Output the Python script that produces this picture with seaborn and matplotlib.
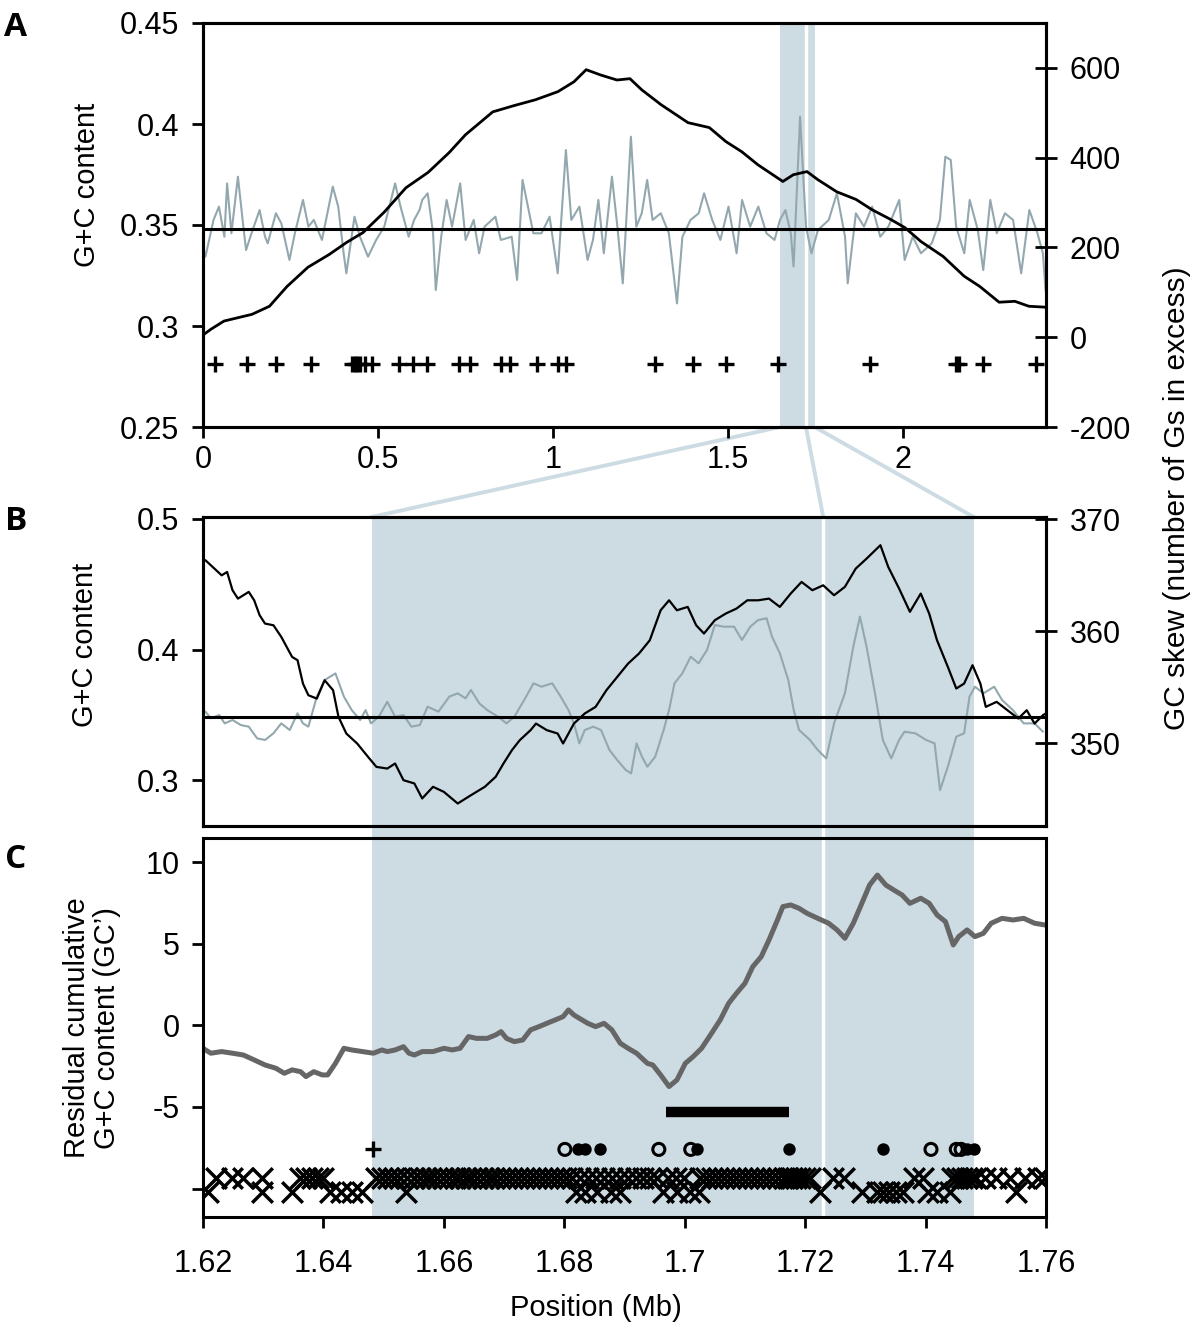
import matplotlib
matplotlib.use("Agg")
import matplotlib.pyplot as plt
import matplotlib.transforms as mtransforms
from matplotlib.patches import Rectangle, ConnectionPatch
from matplotlib.lines import Line2D
import seaborn as sns

# ---------------- data ----------------
# Panel A : whole genome (Mb)
a_gc_pos = [0.000, 0.0069, 0.0301, 0.0456, 0.0611, 0.0689, 0.0812, 0.0998, 0.1153, 0.1231, 0.1386, 0.1618,
            0.1773, 0.1850, 0.2083, 0.2238, 0.2470, 0.2625, 0.2857, 0.3012, 0.3167, 0.3399, 0.3709, 0.3864,
            0.4019, 0.4096, 0.4329, 0.4484, 0.4716, 0.4948, 0.5181, 0.5490, 0.5645, 0.5878, 0.6033, 0.6187,
            0.6265, 0.6420, 0.6575, 0.6652, 0.6807, 0.6962, 0.7117, 0.7349, 0.7504, 0.7736, 0.7891, 0.8046,
            0.8356, 0.8511, 0.8821, 0.8976, 0.9131, 0.9285, 0.9440, 0.9673, 0.9905, 1.0137, 1.0370, 1.0525,
            1.0757, 1.0990, 1.1144, 1.1299, 1.1454, 1.1686, 1.1841, 1.1996, 1.2228, 1.2383, 1.2538, 1.2693,
            1.2848, 1.3081, 1.3313, 1.3545, 1.3700, 1.3932, 1.4165, 1.4320, 1.4552, 1.4784, 1.5017, 1.5249,
            1.5404, 1.5636, 1.5869, 1.6101, 1.6333, 1.6488, 1.6643, 1.6798, 1.6876, 1.7062, 1.7232, 1.7387,
            1.7573, 1.7882, 1.8115, 1.8347, 1.8424, 1.8657, 1.8889, 1.9122, 1.9354, 1.9586, 1.9896, 2.0051,
            2.0283, 2.0516, 2.0825, 2.1058, 2.1213, 2.1368, 2.1522, 2.1755, 2.1910, 2.2142, 2.2297, 2.2498,
            2.2684, 2.2917, 2.3149, 2.3381, 2.3614, 2.3846, 2.4001, 2.4078]
a_gc_val = [0.3393, 0.3343, 0.3525, 0.3591, 0.3442, 0.3706, 0.3459, 0.3739, 0.3492, 0.3376, 0.3459, 0.3574,
            0.3442, 0.3409, 0.3558, 0.3508, 0.3327, 0.3459, 0.3624, 0.3492, 0.3525, 0.3426, 0.3690, 0.3591,
            0.3360, 0.3261, 0.3541, 0.3442, 0.3343, 0.3426, 0.3492, 0.3706, 0.3591, 0.3442, 0.3525, 0.3574,
            0.3624, 0.3657, 0.3459, 0.3178, 0.3442, 0.3624, 0.3492, 0.3706, 0.3426, 0.3525, 0.3360, 0.3492,
            0.3541, 0.3426, 0.3442, 0.3228, 0.3723, 0.3591, 0.3459, 0.3459, 0.3541, 0.3261, 0.3871, 0.3525,
            0.3591, 0.3327, 0.3426, 0.3624, 0.3360, 0.3739, 0.3492, 0.3211, 0.3937, 0.3492, 0.3558, 0.3723,
            0.3525, 0.3558, 0.3459, 0.3112, 0.3442, 0.3525, 0.3558, 0.3657, 0.3525, 0.3426, 0.3591, 0.3360,
            0.3624, 0.3492, 0.3591, 0.3459, 0.3426, 0.3525, 0.3574, 0.3459, 0.3294, 0.4036, 0.3492, 0.3360,
            0.3475, 0.3525, 0.3657, 0.3442, 0.3211, 0.3558, 0.3492, 0.3591, 0.3442, 0.3492, 0.3624, 0.3327,
            0.3442, 0.3360, 0.3409, 0.3525, 0.3838, 0.3822, 0.3492, 0.3360, 0.3624, 0.3475, 0.3277, 0.3624,
            0.3459, 0.3558, 0.3525, 0.3261, 0.3574, 0.3459, 0.3360, 0.3176]
a_skew_pos = [0.000, 0.023, 0.060, 0.140, 0.190, 0.240, 0.300, 0.360, 0.410, 0.457, 0.517, 0.580, 0.643,
              0.703, 0.750, 0.828, 0.889, 0.950, 1.014, 1.060, 1.095, 1.137, 1.183, 1.220, 1.254, 1.309,
              1.386, 1.447, 1.494, 1.540, 1.586, 1.657, 1.687, 1.726, 1.757, 1.811, 1.866, 1.912, 1.966,
              2.006, 2.052, 2.115, 2.175, 2.220, 2.275, 2.320, 2.360, 2.406]
a_skew_val = [5, 18, 36, 51, 69, 113, 156, 184, 211, 233, 278, 333, 367, 411, 451, 502, 516, 529, 547, 569,
              596, 584, 573, 576, 551, 518, 478, 467, 436, 413, 384, 347, 362, 369, 351, 324, 307, 284, 262,
              244, 213, 180, 136, 113, 78, 80, 69, 67]
a_plus_pos = [0.034, 0.126, 0.209, 0.309, 0.426, 0.434, 0.440, 0.449, 0.463, 0.483, 0.560, 0.600, 0.640,
              0.731, 0.763, 0.851, 0.877, 0.954, 1.014, 1.037, 1.291, 1.400, 1.494, 1.643, 1.906, 2.151,
              2.160, 2.229, 2.380]
a_plus_level = 0.281
gc_mean = 0.348

# zoomed window
zoom_start, zoom_gap, zoom_end = 1.648, 1.723, 1.748

# Panel B
b_skew_pos = [1.6204, 1.6213, 1.6231, 1.6240, 1.6249, 1.6258, 1.6276, 1.6285, 1.6294, 1.6303, 1.6317, 1.6330,
              1.6348, 1.6357, 1.6366, 1.6375, 1.6389, 1.6402, 1.6416, 1.6425, 1.6438, 1.6456, 1.6474, 1.6488,
              1.6506, 1.6519, 1.6533, 1.6551, 1.6564, 1.6582, 1.6600, 1.6623, 1.6645, 1.6668, 1.6686, 1.6699,
              1.6713, 1.6726, 1.6744, 1.6753, 1.6771, 1.6789, 1.6798, 1.6816, 1.6834, 1.6852, 1.6870, 1.6888,
              1.6906, 1.6924, 1.6942, 1.6960, 1.6974, 1.6987, 1.7005, 1.7019, 1.7032, 1.7050, 1.7068, 1.7086,
              1.7104, 1.7122, 1.7140, 1.7158, 1.7176, 1.7194, 1.7212, 1.7230, 1.7248, 1.7266, 1.7284, 1.7302,
              1.7325, 1.7338, 1.7356, 1.7374, 1.7392, 1.7406, 1.7419, 1.7437, 1.7451, 1.7464, 1.7478, 1.7491,
              1.7500, 1.7518, 1.7536, 1.7554, 1.7568, 1.7581, 1.7595, 1.7604]
b_skew_val = [366.34, 365.89, 364.99, 365.29, 363.66, 362.91, 363.51, 362.76, 361.43, 360.68, 360.53, 359.49,
              357.70, 357.41, 355.32, 354.28, 353.98, 355.62, 354.73, 352.35, 350.86, 349.97, 348.78, 347.88,
              347.73, 348.18, 346.69, 346.40, 345.06, 346.10, 345.65, 344.61, 345.35, 346.10, 346.99, 348.18,
              349.37, 350.26, 351.16, 351.75, 351.16, 350.86, 349.97, 351.75, 352.65, 353.24, 354.73, 355.92,
              357.11, 358.00, 359.19, 361.87, 362.76, 361.87, 362.17, 360.53, 359.79, 360.98, 361.57, 362.02,
              362.76, 362.76, 362.91, 362.17, 363.36, 364.40, 363.66, 364.10, 363.21, 363.96, 365.59, 366.48,
              367.68, 365.74, 363.81, 361.73, 363.36, 361.57, 359.19, 356.81, 354.88, 355.32, 356.96, 355.32,
              353.24, 353.69, 352.94, 352.20, 352.94, 351.75, 352.50, 352.79]
b_gc_pos = [1.6204, 1.6213, 1.6227, 1.6236, 1.6249, 1.6263, 1.6276, 1.6290, 1.6303, 1.6317, 1.6330, 1.6344,
            1.6357, 1.6366, 1.6375, 1.6389, 1.6402, 1.6420, 1.6434, 1.6447, 1.6461, 1.6470, 1.6479, 1.6492,
            1.6506, 1.6519, 1.6533, 1.6546, 1.6560, 1.6573, 1.6591, 1.6609, 1.6623, 1.6636, 1.6645, 1.6659,
            1.6672, 1.6690, 1.6704, 1.6717, 1.6735, 1.6749, 1.6762, 1.6780, 1.6794, 1.6807, 1.6816, 1.6825,
            1.6834, 1.6848, 1.6861, 1.6875, 1.6888, 1.6902, 1.6911, 1.6920, 1.6929, 1.6938, 1.6951, 1.6965,
            1.6974, 1.6983, 1.6996, 1.7010, 1.7023, 1.7037, 1.7050, 1.7064, 1.7082, 1.7095, 1.7109, 1.7122,
            1.7136, 1.7145, 1.7158, 1.7172, 1.7181, 1.7190, 1.7208, 1.7221, 1.7235, 1.7248, 1.7266, 1.7280,
            1.7291, 1.7302, 1.7316, 1.7329, 1.7343, 1.7356, 1.7365, 1.7383, 1.7401, 1.7415, 1.7424, 1.7437,
            1.7451, 1.7464, 1.7473, 1.7482, 1.7496, 1.7514, 1.7527, 1.7545, 1.7563, 1.7581, 1.7595]
b_gc_val = [0.3524, 0.3473, 0.3498, 0.3434, 0.3460, 0.3421, 0.3409, 0.3319, 0.3307, 0.3358, 0.3434, 0.3383,
            0.3511, 0.3434, 0.3409, 0.3639, 0.3766, 0.3817, 0.3639, 0.3536, 0.3460, 0.3536, 0.3434, 0.3485,
            0.3600, 0.3485, 0.3498, 0.3409, 0.3421, 0.3562, 0.3524, 0.3639, 0.3664, 0.3626, 0.3690, 0.3587,
            0.3536, 0.3485, 0.3434, 0.3485, 0.3626, 0.3741, 0.3715, 0.3741, 0.3639, 0.3536, 0.3434, 0.3281,
            0.3383, 0.3409, 0.3383, 0.3230, 0.3153, 0.3077, 0.3051, 0.3281, 0.3179, 0.3102, 0.3179, 0.3383,
            0.3536, 0.3741, 0.3817, 0.3945, 0.3894, 0.3996, 0.4188, 0.4175, 0.4175, 0.4073, 0.4175, 0.4226,
            0.4239, 0.4098, 0.3971, 0.3766, 0.3536, 0.3383, 0.3307, 0.3230, 0.3166, 0.3434, 0.3664, 0.4022,
            0.4252, 0.4022, 0.3664, 0.3307, 0.3166, 0.3307, 0.3370, 0.3358, 0.3307, 0.3281, 0.2923, 0.3102,
            0.3332, 0.3358, 0.3639, 0.3715, 0.3664, 0.3715, 0.3613, 0.3536, 0.3434, 0.3434, 0.3370]

# Panel C
c_pos = [1.6200, 1.6213, 1.6231, 1.6249, 1.6267, 1.6285, 1.6303, 1.6321, 1.6335, 1.6348, 1.6362, 1.6371,
         1.6384, 1.6398, 1.6407, 1.6420, 1.6434, 1.6447, 1.6465, 1.6483, 1.6497, 1.6506, 1.6519, 1.6533,
         1.6542, 1.6551, 1.6564, 1.6582, 1.6600, 1.6614, 1.6627, 1.6641, 1.6654, 1.6672, 1.6686, 1.6695,
         1.6704, 1.6717, 1.6731, 1.6744, 1.6758, 1.6771, 1.6785, 1.6798, 1.6807, 1.6816, 1.6825, 1.6839,
         1.6852, 1.6866, 1.6879, 1.6893, 1.6906, 1.6920, 1.6938, 1.6947, 1.6960, 1.6974, 1.6987, 1.7001,
         1.7014, 1.7028, 1.7041, 1.7059, 1.7073, 1.7086, 1.7100, 1.7113, 1.7127, 1.7140, 1.7154, 1.7163,
         1.7176, 1.7190, 1.7203, 1.7221, 1.7239, 1.7253, 1.7266, 1.7280, 1.7293, 1.7307, 1.7320, 1.7334,
         1.7347, 1.7361, 1.7374, 1.7392, 1.7406, 1.7419, 1.7433, 1.7446, 1.7455, 1.7469, 1.7482, 1.7496,
         1.7509, 1.7527, 1.7545, 1.7563, 1.7581, 1.7599]
c_val = [-1.41, -1.71, -1.61, -1.71, -1.82, -2.12, -2.43, -2.63, -2.94, -2.73, -2.84, -3.14,
         -2.84, -3.04, -3.04, -2.33, -1.41, -1.51, -1.61, -1.71, -1.51, -1.61, -1.51, -1.31,
         -1.71, -1.82, -1.61, -1.61, -1.41, -1.51, -1.41, -0.69, -0.80, -0.80, -0.59, -0.39,
         -0.80, -1.00, -0.90, -0.28, -0.08, 0.12, 0.33, 0.53, 0.94, 0.63, 0.43, 0.12,
         -0.08, 0.12, -0.28, -1.10, -1.41, -1.71, -2.33, -2.43, -3.04, -3.75, -3.35, -2.33,
         -1.92, -1.41, -0.69, 0.33, 1.35, 1.96, 2.57, 3.59, 4.20, 5.23, 6.45, 7.27,
         7.37, 7.16, 6.86, 6.55, 6.25, 5.84, 5.33, 6.25, 7.37, 8.59, 9.20, 8.59,
         8.29, 7.98, 7.47, 7.78, 7.47, 6.76, 6.35, 4.92, 5.43, 5.84, 5.43, 5.63,
         6.25, 6.55, 6.45, 6.55, 6.25, 6.14]
c_bar_start, c_bar_end, c_bar_level = 1.6969, 1.7173, -5.31
c_marker_level = -7.6
c_plus_pos = [1.6482]
c_open_pos = [1.6801, 1.6957, 1.7010, 1.7409, 1.7451, 1.7459]
c_filled_pos = [1.6823, 1.6834, 1.6859, 1.7020, 1.7173, 1.7329, 1.7469, 1.7481]
c_x_upper_level = -9.35
c_x_upper_pos = [1.6222, 1.6248, 1.6266, 1.6298, 1.6361, 1.6371, 1.6381, 1.6391, 1.6399, 1.6487, 1.6497,
                 1.6507, 1.6517, 1.6527, 1.6539, 1.6550, 1.6560, 1.6570, 1.6579, 1.6589, 1.6599, 1.6609,
                 1.6619, 1.6627, 1.6637, 1.6645, 1.6655, 1.6665, 1.6675, 1.6683, 1.6693, 1.6703, 1.6713,
                 1.6723, 1.6733, 1.6743, 1.6753, 1.6763, 1.6773, 1.6783, 1.6793, 1.6803, 1.6813, 1.6826,
                 1.6839, 1.6853, 1.6866, 1.6879, 1.6893, 1.6906, 1.6919, 1.6931, 1.6942, 1.6954, 1.6972,
                 1.6986, 1.6999, 1.7025, 1.7035, 1.7045, 1.7055, 1.7065, 1.7075, 1.7085, 1.7095, 1.7105,
                 1.7115, 1.7125, 1.7135, 1.7145, 1.7155, 1.7165, 1.7172, 1.7178, 1.7185, 1.7192, 1.7200,
                 1.7208, 1.7246, 1.7265, 1.7381, 1.7396, 1.7444, 1.7452, 1.7461, 1.7469, 1.7477, 1.7484,
                 1.7499, 1.7517, 1.7540, 1.7565, 1.7587, 1.7598]
c_x_lower_level = -10.2
c_x_lower_pos = [1.6208, 1.6298, 1.6348, 1.6411, 1.6429, 1.6447, 1.6464, 1.6537, 1.6820, 1.6834, 1.6854,
                 1.6878, 1.6893, 1.6964, 1.6987, 1.7009, 1.7024, 1.7225, 1.7294, 1.7319, 1.7329, 1.7339,
                 1.7351, 1.7363, 1.7404, 1.7419, 1.7441, 1.7550]

# tick labels
a_xticks = [0, 0.5, 1, 1.5, 2]
a_xticklabels = ["0", "0.5", "1", "1.5", "2"]
a_yticks = [0.25, 0.3, 0.35, 0.4, 0.45]
a_yticklabels = ["0.25", "0.3", "0.35", "0.4", "0.45"]
a_y2ticks = [-200, 0, 200, 400, 600]
a_y2ticklabels = ["-200", "0", "200", "400", "600"]
b_yticks = [0.3, 0.4, 0.5]
b_yticklabels = ["0.3", "0.4", "0.5"]
b_y2ticks = [350, 360, 370]
b_y2ticklabels = ["350", "360", "370"]
c_yticks = [10, 5, 0, -5, -10]
c_yticklabels = ["10", "5", "0", "-5", ""]
c_xticks = [1.62, 1.64, 1.66, 1.68, 1.70, 1.72, 1.74, 1.76]
c_xticklabels = ["1.62", "1.64", "1.66", "1.68", "1.7", "1.72", "1.74", "1.76"]

# ---------------- style ----------------
sns.set_theme(style="ticks")
plt.rcParams['font.family'] = ['Liberation Sans', 'DejaVu Sans']
plt.rcParams['axes.unicode_minus'] = False
for key in ('text.color', 'axes.labelcolor', 'xtick.color', 'ytick.color', 'axes.edgecolor'):
    plt.rcParams[key] = 'black'

SHADE = '#cddbe3'
GRAY = '#93a8ae'
FS_TICK = 22
FS_LAB = 21
SPINE_W = 2.2

fig = plt.figure(figsize=(12, 13.38), dpi=100)
fig.patch.set_facecolor('white')

L, W = 203 / 1200, 843 / 1200
def fy(px):
    return 1 - px / 1338

axA = fig.add_axes([L, fy(427), W, (427 - 23) / 1338])
axB = fig.add_axes([L, fy(826), W, (826 - 517) / 1338])
axC = fig.add_axes([L, fy(1217), W, (1217 - 838) / 1338])
for ax in (axB, axC):
    ax.set_facecolor('none')

# ---- Panel A ----
axA2 = axA.twinx()
axA.set_xlim(0, 2.409)
axA.set_ylim(0.25, 0.45)
axA2.set_ylim(-200, 700)
axA.axvspan(zoom_start, zoom_end, color=SHADE, lw=0, zorder=0)
axA.axvline(zoom_gap, color='white', lw=2.5, zorder=0.5)
sns.lineplot(x=a_gc_pos, y=a_gc_val, ax=axA, color=GRAY, lw=1.5, estimator=None, sort=False, zorder=2)
axA.axhline(gc_mean, color='black', lw=2.2, zorder=3)
axA.scatter(a_plus_pos, [a_plus_level] * len(a_plus_pos), marker='+', s=120, c='black',
            linewidths=2.4, zorder=4)
sns.lineplot(x=a_skew_pos, y=a_skew_val, ax=axA2, color='black', lw=2.0, estimator=None, sort=False)

axA.set_xticks(a_xticks)
axA.set_xticklabels(a_xticklabels)
axA.set_yticks(a_yticks)
axA.set_yticklabels(a_yticklabels)
axA2.set_yticks(a_y2ticks)
axA2.set_yticklabels(a_y2ticklabels)
axA.tick_params(axis='y', direction='out', length=8, width=2, labelsize=FS_TICK, pad=9,
                right=False, colors='black')
axA.tick_params(axis='x', direction='out', length=8, width=2, labelsize=FS_TICK, pad=5,
                top=False, colors='black')
axA2.tick_params(axis='y', direction='inout', length=16, width=2, labelsize=FS_TICK, pad=9, colors='black')
axA.set_xlabel('')
axA.set_ylabel('')
axA2.set_ylabel('')

# ---- Panel B ----
axB2 = axB.twinx()
axB.set_xlim(1.62, 1.76)
axB.set_ylim(0.2648, 0.5015)
axB2.set_ylim(342.6, 370.2)
sns.lineplot(x=b_gc_pos, y=b_gc_val, ax=axB, color=GRAY, lw=1.5, estimator=None, sort=False, zorder=2)
axB.axhline(gc_mean, color='black', lw=2.2, zorder=3)
sns.lineplot(x=b_skew_pos, y=b_skew_val, ax=axB2, color='black', lw=1.6, estimator=None, sort=False)
axB.set_yticks(b_yticks)
axB.set_yticklabels(b_yticklabels)
axB2.set_yticks(b_y2ticks)
axB2.set_yticklabels(b_y2ticklabels)
axB.tick_params(axis='y', direction='out', length=8, width=2, labelsize=FS_TICK, pad=9, right=False,
                colors='black')
axB.tick_params(axis='x', bottom=False, labelbottom=False, top=False)
axB2.tick_params(axis='y', direction='inout', length=16, width=2, labelsize=FS_TICK, pad=9, colors='black')
axB.set_xlabel('')
axB.set_ylabel('')
axB2.set_ylabel('')

# ---- Panel C ----
axC.set_xlim(1.62, 1.76)
axC.set_ylim(-11.74, 11.47)
sns.lineplot(x=c_pos, y=c_val, ax=axC, color='#666666', lw=3.6, estimator=None, sort=False, zorder=2)
axC.plot([c_bar_start, c_bar_end], [c_bar_level, c_bar_level], color='black', lw=7.5,
         solid_capstyle='butt', zorder=3)
axC.scatter(c_plus_pos, [c_marker_level] * len(c_plus_pos), marker='+', s=120, c='black',
            linewidths=2.4, zorder=4)
axC.scatter(c_open_pos, [c_marker_level] * len(c_open_pos), marker='o', s=75, facecolors='none',
            edgecolors='black', linewidths=2.2, zorder=4)
axC.scatter(c_filled_pos, [c_marker_level] * len(c_filled_pos), marker='o', s=80, c='black',
            linewidths=0, zorder=4)
axC.scatter(c_x_upper_pos, [c_x_upper_level] * len(c_x_upper_pos), marker='x', s=220, c='black',
            linewidths=2.5, zorder=4)
axC.scatter(c_x_lower_pos, [c_x_lower_level] * len(c_x_lower_pos), marker='x', s=220, c='black',
            linewidths=2.5, zorder=4)
axC.set_yticks(c_yticks)
axC.set_yticklabels(c_yticklabels)
axC.set_xticks(c_xticks)
axC.set_xticklabels(c_xticklabels)
axC.tick_params(axis='y', direction='out', length=8, width=2, labelsize=FS_TICK, pad=9,
                right=False, colors='black')
axC.tick_params(axis='x', direction='out', length=8, width=2, labelsize=FS_TICK, pad=15,
                top=False, colors='black')
axC.set_xlabel('')
axC.set_ylabel('')

for ax in (axA, axA2, axB, axB2, axC):
    for sp in ax.spines.values():
        sp.set_visible(True)
        sp.set_linewidth(SPINE_W)
        sp.set_color('black')

# ---- shading through panels B and C ----
blendC = mtransforms.blended_transform_factory(axC.transData, fig.transFigure)
y_bot, y_top = fy(1217), fy(517)
fig.add_artist(Rectangle((zoom_start, y_bot), zoom_end - zoom_start, y_top - y_bot,
                         transform=blendC, facecolor=SHADE, edgecolor='none', zorder=-2))
fig.add_artist(Line2D([zoom_gap, zoom_gap], [y_bot, y_top], transform=blendC, color='white',
                      lw=2.5, zorder=-1))

# ---- connectors from A to B ----
blendA = mtransforms.blended_transform_factory(axA.transData, axA.transAxes)
blendB = mtransforms.blended_transform_factory(axB.transData, axB.transAxes)
for xv in (zoom_start, zoom_gap, zoom_end):
    con = ConnectionPatch(xyA=(xv, 0), coordsA=blendA, xyB=(xv, 1), coordsB=blendB,
                          color=SHADE, lw=2.8, zorder=-1)
    fig.add_artist(con)

# ---- labels ----
fig.text(87 / 1200, fy(185), 'G+C content', rotation=90, ha='center', va='center', fontsize=FS_LAB)
fig.text(85 / 1200, fy(645), 'G+C content', rotation=90, ha='center', va='center', fontsize=FS_LAB)
fig.text(92 / 1200, fy(1028), 'Residual cumulative\nG+C content (GC\u2019)', rotation=90,
         ha='center', va='center', multialignment='center', linespacing=1.12, fontsize=FS_LAB)
fig.text(1177 / 1200, fy(498), 'GC skew (number of Gs in excess)', rotation=90,
         ha='center', va='center', fontsize=21.5)
fig.text(596 / 1200, fy(1308), 'Position (Mb)', ha='center', va='center', fontsize=FS_LAB)

for letter, ypx in (('A', 28), ('B', 522), ('C', 859)):
    fig.text(16 / 1200, fy(ypx), letter, ha='center', va='center', fontsize=24,
             fontweight='bold', family=['Open Sans', 'DejaVu Sans'])

fig.savefig('out.png', dpi=100, facecolor='white')
